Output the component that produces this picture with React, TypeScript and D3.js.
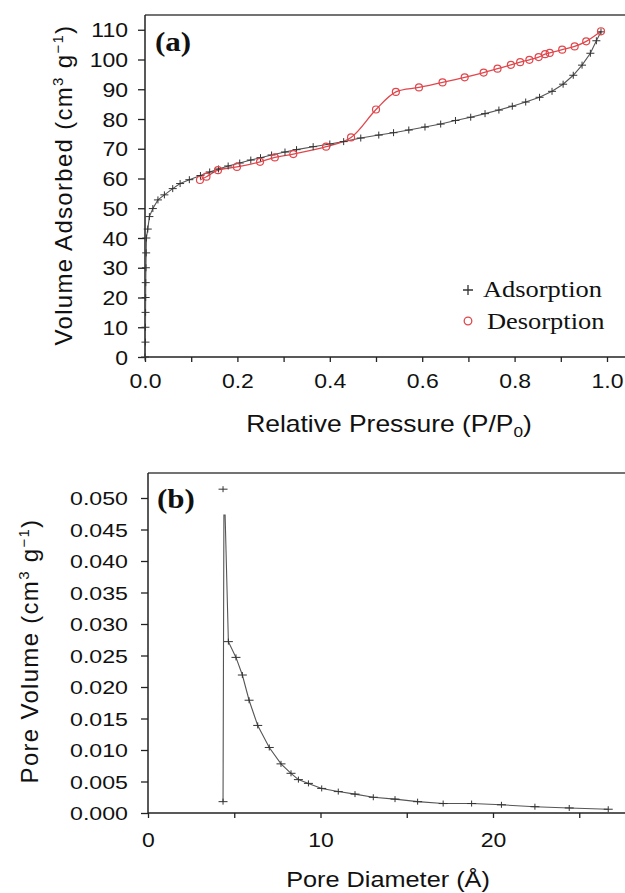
import React, { useEffect, useRef } from 'react';
import * as d3 from 'd3';

// (a) N2 isotherm
const adsP = [0, 0.001, 0.001, 0.0012, 0.0014, 0.0016, 0.002, 0.0025, 0.003, 0.006, 0.0095, 0.017, 0.028, 0.042, 0.06, 0.076, 0.096, 0.12, 0.14, 0.159, 0.18, 0.205, 0.229, 0.25, 0.274, 0.303, 0.328, 0.364, 0.40, 0.43, 0.467, 0.506, 0.538, 0.571, 0.606, 0.64, 0.672, 0.705, 0.736, 0.766, 0.795, 0.824, 0.854, 0.881, 0.905, 0.927, 0.946, 0.964, 0.977, 0.987];
const adsV = [0, 5, 10, 15, 20, 25, 30, 35, 40, 43, 47.2, 49.9, 52.8, 54.5, 56.6, 58.3, 59.6, 61.0, 62.2, 63.2, 64.2, 65.2, 66.2, 67.0, 67.9, 68.9, 69.7, 70.7, 71.6, 72.4, 73.6, 74.6, 75.4, 76.3, 77.3, 78.3, 79.5, 80.6, 81.8, 83.0, 84.3, 85.7, 87.3, 89.3, 91.7, 94.7, 98.1, 102.1, 106.3, 109.3];
const desP = [0.987, 0.955, 0.93, 0.903, 0.876, 0.866, 0.852, 0.832, 0.812, 0.792, 0.763, 0.733, 0.692, 0.644, 0.593, 0.543, 0.5, 0.446, 0.392, 0.321, 0.281, 0.249, 0.199, 0.158, 0.133, 0.119];
const desV = [109.5, 106.1, 104.4, 103.3, 102.2, 101.8, 100.8, 99.9, 99.1, 98.2, 96.9, 95.6, 94.0, 92.3, 90.6, 89.1, 83.2, 73.8, 70.7, 68.2, 67.1, 65.6, 63.9, 62.8, 60.6, 59.5];
const aXTicks = [0, 0.2, 0.4, 0.6, 0.8, 1.0];
const aYTicks = [0, 10, 20, 30, 40, 50, 60, 70, 80, 90, 100, 110];

// (b) pore size distribution
const poreD = [4.35, 4.4, 4.47, 4.66, 5.1, 5.47, 5.86, 6.36, 7.03, 7.71, 8.29, 8.72, 9.3, 10.07, 11.03, 12.0, 13.06, 14.32, 15.63, 17.11, 18.76, 20.49, 22.43, 24.42, 26.68];
const poreV = [0.0018, 0.0473, 0.0473, 0.0272, 0.0247, 0.0219, 0.0179, 0.0139, 0.0104, 0.0078, 0.0063, 0.0053, 0.0047, 0.0039, 0.0034, 0.003, 0.0025, 0.0022, 0.0018, 0.0015, 0.0015, 0.0013, 0.001, 0.0008, 0.0006];
const poreMarked = [true, false, false, true, true, true, true, true, true, true, true, true, true, true, true, true, true, true, true, true, true, true, true, true, true];
const extraD = [4.35];
const extraV = [0.0514];
const bXTicks = [0, 10, 20];
const bYTicks = [0, 0.005, 0.01, 0.015, 0.02, 0.025, 0.03, 0.035, 0.04, 0.045, 0.05];

const SANS = '"Liberation Sans", Arial, sans-serif';
const SERIF = '"Liberation Serif", "Times New Roman", serif';
const SX = 1.15;

const plus = (a: number, b: number) => `M${-a},0H${a}M0,${-b}V${b}`;

const App = () => {
  const svgRef = useRef<SVGSVGElement>(null);

  useEffect(() => {
    const svg = d3.select(svgRef.current);
    svg.selectAll('*').remove();

    const stretchText = (g: any, x: number, y: number, txt: string, size: number, anchor: string, family: string, weight = 'normal') =>
      g.append('text')
        .attr('transform', `translate(${x},${y}) scale(${SX},1)`)
        .attr('text-anchor', anchor)
        .style('font-family', family)
        .style('font-size', `${size}px`)
        .style('font-weight', weight)
        .attr('fill', '#111')
        .text(txt);

    const frame = (left: number, top: number, bottom: number) => {
      svg.append('line').attr('x1', left).attr('x2', 626).attr('y1', top).attr('y2', top)
        .attr('stroke', '#444').attr('stroke-width', 1.5);
      svg.append('line').attr('x1', left).attr('x2', left).attr('y1', top).attr('y2', bottom)
        .attr('stroke', '#222').attr('stroke-width', 1.5);
      svg.append('line').attr('x1', left).attr('x2', 626).attr('y1', bottom).attr('y2', bottom)
        .attr('stroke', '#222').attr('stroke-width', 1.5);
    };

    const styleAxis = (g: any) => {
      g.select('.domain').remove();
      g.selectAll('line').attr('stroke', '#222').attr('stroke-width', 1.3);
      g.selectAll('text')
        .style('font-family', SANS)
        .style('font-size', '20px')
        .attr('fill', '#111');
    };

    // ---------- panel (a) ----------
    const ax = d3.scaleLinear().domain([0, 1]).range([145, 607]);
    const ay = d3.scaleLinear().domain([0, 110]).range([357, 29.75]);
    frame(145, 15, 357);

    const axB = svg.append('g').attr('transform', 'translate(0,357)')
      .call(d3.axisBottom(ax).tickValues(aXTicks).tickSize(5).tickFormat(d3.format('.1f')));
    styleAxis(axB);
    axB.selectAll('text').attr('y', 31).attr('dy', null).attr('transform', `scale(${SX},1)`);
    const axBm = svg.append('g').attr('transform', 'translate(0,357)')
      .call(d3.axisBottom(ax).tickValues([0.1, 0.3, 0.5, 0.7, 0.9]).tickSize(5).tickFormat(() => ''));
    styleAxis(axBm);

    const ayL = svg.append('g').attr('transform', 'translate(145,0)')
      .call(d3.axisLeft(ay).tickValues(aYTicks).tickSize(7));
    styleAxis(ayL);
    ayL.selectAll('text').attr('x', -17 / SX).attr('dy', '0.36em').attr('transform', `scale(${SX},1)`);

    const ads = adsP.map((p, i) => [p, adsV[i]] as [number, number]);
    const des = desP.map((p, i) => [p, desV[i]] as [number, number]);

    svg.append('path').attr('d', d3.line().x(d => ax(d[0])).y(d => ay(d[1]))(ads))
      .attr('fill', 'none').attr('stroke', '#555').attr('stroke-width', 1.1);
    svg.append('path').attr('d', d3.line().x(d => ax(d[0])).y(d => ay(d[1])).curve(d3.curveCatmullRom.alpha(0.5))(des))
      .attr('fill', 'none').attr('stroke', '#e0474c').attr('stroke-width', 1.3);

    svg.append('g').selectAll('path').data(ads).enter().append('path')
      .attr('transform', d => `translate(${ax(d[0])},${ay(d[1])})`)
      .attr('d', plus(4, 3.5)).attr('stroke', '#333').attr('stroke-width', 1).attr('fill', 'none');
    svg.append('g').selectAll('circle').data(des).enter().append('circle')
      .attr('cx', d => ax(d[0])).attr('cy', d => ay(d[1])).attr('r', 3.5)
      .attr('fill', 'none').attr('stroke', '#e0474c').attr('stroke-width', 1.2);

    // legend
    svg.append('path').attr('transform', 'translate(468,290)').attr('d', plus(5, 5))
      .attr('stroke', '#333').attr('stroke-width', 1.3);
    stretchText(svg, 483, 297, 'Adsorption', 23, 'start', SERIF);
    svg.append('circle').attr('cx', 468).attr('cy', 321).attr('r', 3.8)
      .attr('fill', 'none').attr('stroke', '#e0474c').attr('stroke-width', 1.3);
    stretchText(svg, 487, 329, 'Desorption', 23, 'start', SERIF);

    stretchText(svg, 155, 51, '(a)', 27, 'start', SERIF, 'bold');

    const xl = stretchText(svg, 389, 432, '', 23, 'middle', SANS);
    xl.append('tspan').text('Relative Pressure (P/P');
    xl.append('tspan').attr('dy', 5).style('font-size', '15px').text('0');
    xl.append('tspan').attr('dy', -5).text(')');

    const yLabel = (x: number, y: number) =>
      svg.append('text')
        .attr('transform', `translate(${x},${y}) rotate(-90)`)
        .attr('text-anchor', 'middle')
        .style('font-family', SANS)
        .style('font-size', '24px')
        .style('letter-spacing', '1.3px')
        .attr('fill', '#111');
    const addUnits = (t: any) => {
      t.append('tspan').text('(cm');
      t.append('tspan').attr('dy', -9).style('font-size', '15px').text('3');
      t.append('tspan').attr('dy', 9).text(' g');
      t.append('tspan').attr('dy', -9).style('font-size', '15px').text('\u22121');
      t.append('tspan').attr('dy', 9).text(')');
    };
    const ya = yLabel(72, 185);
    ya.append('tspan').text('Volume Adsorbed ');
    addUnits(ya);

    // ---------- panel (b) ----------
    const bx = d3.scaleLinear().domain([0, 20]).range([148, 493]);
    const by = d3.scaleLinear().domain([0, 0.05]).range([813, 498]);
    frame(148, 473, 813);

    const bxB = svg.append('g').attr('transform', 'translate(0,813)')
      .call(d3.axisBottom(bx).tickValues(bXTicks).tickSize(5).tickFormat(d3.format('d')));
    styleAxis(bxB);
    bxB.selectAll('text').attr('y', 34).attr('dy', null).attr('transform', `scale(${SX},1)`);
    const bxBm = svg.append('g').attr('transform', 'translate(0,813)')
      .call(d3.axisBottom(bx).tickValues([5, 15, 25]).tickSize(5).tickFormat(() => ''));
    styleAxis(bxBm);

    const byL = svg.append('g').attr('transform', 'translate(148,0)')
      .call(d3.axisLeft(by).tickValues(bYTicks).tickSize(7).tickFormat(d3.format('.3f')));
    styleAxis(byL);
    byL.selectAll('text').style('font-size', '19px').attr('x', -20 / 1.22).attr('dy', '0.36em').attr('transform', 'scale(1.22,1)');

    const pore = poreD.map((d, i) => [d, poreV[i]] as [number, number]);
    svg.append('path').attr('d', d3.line().x(d => bx(d[0])).y(d => by(d[1]))(pore))
      .attr('fill', 'none').attr('stroke', '#555').attr('stroke-width', 1.1);
    const marks = pore.filter((_, i) => poreMarked[i]).concat(extraD.map((d, i) => [d, extraV[i]] as [number, number]));
    svg.append('g').selectAll('path').data(marks).enter().append('path')
      .attr('transform', d => `translate(${bx(d[0])},${by(d[1])})`)
      .attr('d', plus(4.5, 3)).attr('stroke', '#333').attr('stroke-width', 1).attr('fill', 'none');

    stretchText(svg, 157, 508, '(b)', 27, 'start', SERIF, 'bold');
    stretchText(svg, 388, 887, 'Pore Diameter (\u00c5)', 22, 'middle', SANS);

    const yb = yLabel(38, 651);
    yb.append('tspan').text('Pore Volume ');
    addUnits(yb);
  }, []);

  return (
    <svg ref={svgRef} width={625} height={893}
      style={{ position: 'absolute', left: 0, top: 0, background: '#fff' }} />
  );
};

export default App;
